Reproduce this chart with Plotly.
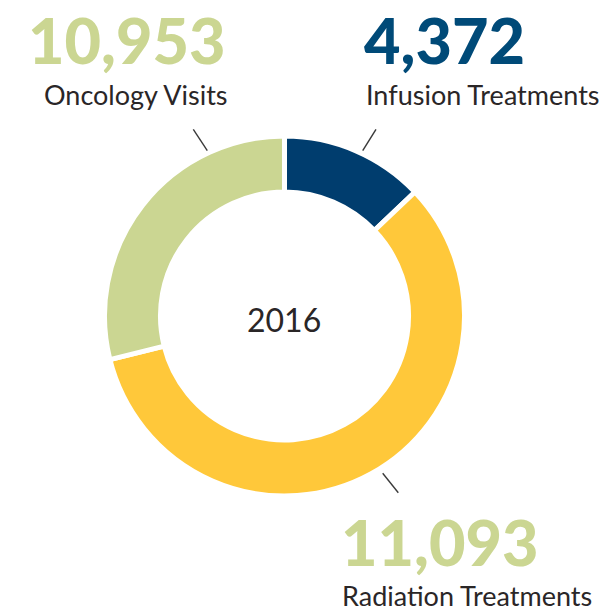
import plotly.graph_objects as go

# Data
categories = ["Infusion Treatments", "Radiation Treatments", "Oncology Visits"]
display_counts = ["4,372", "11,093", "10,953"]
# slice shares (percent)
slice_shares = [12.9, 58.2, 28.9]
center_label = "2016"

ring_colors = ["#003d6e", "#ffc83a", "#cbd692"]
number_colors = ["#004a78", "#cbd692", "#cbd692"]
text_color = "#2a2627"

W, H = 605, 612

def px(x):
    return x / W

def py(y):
    return 1 - y / H

CX, CY, R = 284.5, 316, 180

fig = go.Figure()
fig.add_trace(go.Pie(
    labels=categories,
    values=slice_shares,
    hole=0.689,
    sort=False,
    direction="clockwise",
    rotation=0,
    marker=dict(colors=ring_colors, line=dict(color="white", width=5)),
    textinfo="none",
    hoverinfo="label",
    showlegend=False,
    domain=dict(x=[px(CX - R), px(CX + R)], y=[py(CY + R), py(CY - R)]),
))

annotations = []
annotations.append(dict(x=px(284), y=py(319.5), text=center_label, showarrow=False,
                        xanchor="center", yanchor="middle",
                        font=dict(family="Lato", size=32, color=text_color)))

num_font = dict(family="Lato", size=63, weight=900)
lab_font = dict(family="Lato", size=27, color=text_color)

# Infusion (left aligned)
annotations.append(dict(x=px(362), y=py(39), text=display_counts[0], showarrow=False,
                        xanchor="left", yanchor="middle",
                        font=dict(**num_font, color=number_colors[0])))
annotations.append(dict(x=px(364), y=py(94), text=categories[0], showarrow=False,
                        xanchor="left", yanchor="middle", font=lab_font))
# Radiation (left aligned)
annotations.append(dict(x=px(339), y=py(541), text=display_counts[1], showarrow=False,
                        xanchor="left", yanchor="middle",
                        font=dict(**num_font, color=number_colors[1])))
annotations.append(dict(x=px(340), y=py(595.5), text=categories[1], showarrow=False,
                        xanchor="left", yanchor="middle", font=lab_font))
# Oncology (right aligned)
annotations.append(dict(x=px(228), y=py(39), text=display_counts[2], showarrow=False,
                        xanchor="right", yanchor="middle",
                        font=dict(**num_font, color=number_colors[2])))
annotations.append(dict(x=px(230), y=py(94), text=categories[2], showarrow=False,
                        xanchor="right", yanchor="middle", font=lab_font))

shapes = []
for (x0, y0, x1, y1) in [(193.3, 129.3, 207.3, 150.7),
                         (376, 129.3, 362.7, 150.7),
                         (382.7, 473.3, 398.3, 492.7)]:
    shapes.append(dict(type="line", xref="paper", yref="paper",
                       x0=px(x0), y0=py(y0), x1=px(x1), y1=py(y1),
                       line=dict(color="#3a3a3a", width=1.4)))

fig.update_layout(
    width=W, height=H,
    margin=dict(l=0, r=0, t=0, b=0),
    paper_bgcolor="white",
    plot_bgcolor="white",
    annotations=annotations,
    shapes=shapes,
)

fig.write_html(
    "out.html",
    config={"displayModeBar": False},
    post_script="document.body.style.margin='0';document.body.style.overflow='hidden';",
)
